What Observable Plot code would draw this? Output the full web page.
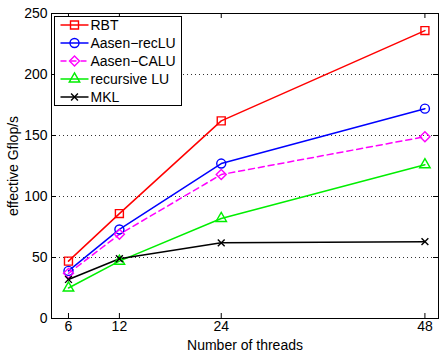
<!DOCTYPE html>
<html>
<head>
<meta charset="utf-8">
<script src="https://cdn.jsdelivr.net/npm/d3@7"></script>
<script src="https://cdn.jsdelivr.net/npm/@observablehq/plot@0.6"></script>
<style>
  html, body { margin: 0; padding: 0; background: #fff; }
  svg { display: block; }
</style>
</head>
<body>
<div id="chart"></div>
<script>
// Effective performance vs. number of threads
const threads = [6, 12, 24, 48];
const yTicks = [0, 50, 100, 150, 200, 250];
const gridValues = [50, 100, 150, 200];

const seriesNames = ["RBT", "Aasen\u2212recLU", "Aasen\u2212CALU", "recursive LU", "MKL"];
const rbt = [47, 86, 162, 236];
const aasenRecLU = [39, 73, 127, 172];
const aasenCALU = [37, 69, 118, 149];
const recursiveLU = [25, 47, 82, 126];
const mkl = [32, 49, 62, 63];

const seriesColors = ["#ff0000", "#0000ff", "#ff00ff", "#00ee00", "#000000"];
const seriesSymbols = ["square", "circle", "diamond2", "triangle", "times"];
const seriesDash = [null, null, "6,4", null, null];
const seriesR = [4.5, 4.5, 4.5, 3.9, 3.2];

const seriesValues = [rbt, aasenRecLU, aasenCALU, recursiveLU, mkl];
const series = seriesNames.map((name, k) => ({
  name, color: seriesColors[k], symbol: seriesSymbols[k], dash: seriesDash[k], r: seriesR[k],
  rows: threads.map((t, i) => ({threads: t, gflops: seriesValues[k][i], name}))
}));

const W = 439, H = 351;
const mL = 51, mR = 1, mT = 13, mB = 33;
const innerW = W - mL - mR, innerH = H - mT - mB;
const tickLen = 5;

const marks = [
  Plot.ruleY(gridValues, {stroke: "#333", strokeDasharray: "1,3", strokeWidth: 1}),
  Plot.frame({stroke: "#000", strokeWidth: 1}),
  // inward ticks on all four sides
  Plot.tickX(threads, {x: d => d, insetBottom: innerH - tickLen, stroke: "#000"}),
  Plot.tickX(threads, {x: d => d, insetTop: innerH - tickLen, stroke: "#000"}),
  Plot.tickY(yTicks, {y: d => d, insetRight: innerW - tickLen, stroke: "#000"}),
  Plot.tickY(yTicks, {y: d => d, insetLeft: innerW - tickLen, stroke: "#000"}),
  Plot.axisX({ticks: threads, tickSize: 0, tickPadding: 3, label: "Number of threads",
              labelAnchor: "center", labelArrow: "none", labelOffset: 31, tickFormat: d => String(d)}),
  Plot.axisY({ticks: yTicks, tickSize: 0, tickPadding: 4, label: "effective Gflop/s",
              labelAnchor: "center", labelArrow: "none", labelOffset: 43})
];

for (const s of series) {
  marks.push(Plot.line(s.rows, {x: "threads", y: "gflops", stroke: s.color, strokeWidth: 1.5,
                                 strokeDasharray: s.dash ?? undefined}));
}
for (const s of series) {
  marks.push(Plot.dot(s.rows, {x: "threads", y: "gflops", stroke: s.color, fill: "none",
                                symbol: s.symbol, r: s.r, strokeWidth: 1.4}));
}

const plot = Plot.plot({
  width: W, height: H,
  marginLeft: mL, marginRight: mR, marginTop: mT, marginBottom: mB,
  style: {fontFamily: "'Liberation Sans', Arial, Helvetica, sans-serif", fontSize: "14px", color: "#000", background: "#fff"},
  x: {type: "linear", domain: [4, 49.6]},
  y: {domain: [0, 250]},
  marks
});

// Legend box in the upper-left corner of the frame
const svg = d3.select(plot);
const legend = svg.append("g")
  .attr("font-family", "'Liberation Sans', Arial, Helvetica, sans-serif")
  .attr("font-size", 14)
  .attr("text-anchor", "start");
const lx = 54.5, ly = 16.5, lw = 127, lh = 89, step = 18;
legend.append("rect").attr("x", lx).attr("y", ly).attr("width", lw).attr("height", lh)
  .attr("fill", "#fff").attr("stroke", "#000").attr("stroke-width", 1);
const symbolTypes = {square: d3.symbolSquare, circle: d3.symbolCircle, diamond2: d3.symbolDiamond2,
                     triangle: d3.symbolTriangle, times: d3.symbolTimes};
series.forEach((s, i) => {
  const cy = ly + 8.5 + i * step;
  legend.append("line").attr("x1", lx + 6).attr("x2", lx + 34).attr("y1", cy).attr("y2", cy)
    .attr("stroke", s.color).attr("stroke-width", 1.5).attr("stroke-dasharray", s.dash);
  legend.append("path").attr("transform", `translate(${lx + 20},${cy})`)
    .attr("d", d3.symbol(symbolTypes[s.symbol], Math.PI * s.r * s.r)())
    .attr("fill", "none").attr("stroke", s.color).attr("stroke-width", 1.4);
  legend.append("text").attr("x", lx + 36).attr("y", cy).attr("dy", "0.35em")
    .attr("text-anchor", "start").attr("fill", "#000").text(s.name);
});

document.getElementById("chart").appendChild(plot);
</script>
</body>
</html>
